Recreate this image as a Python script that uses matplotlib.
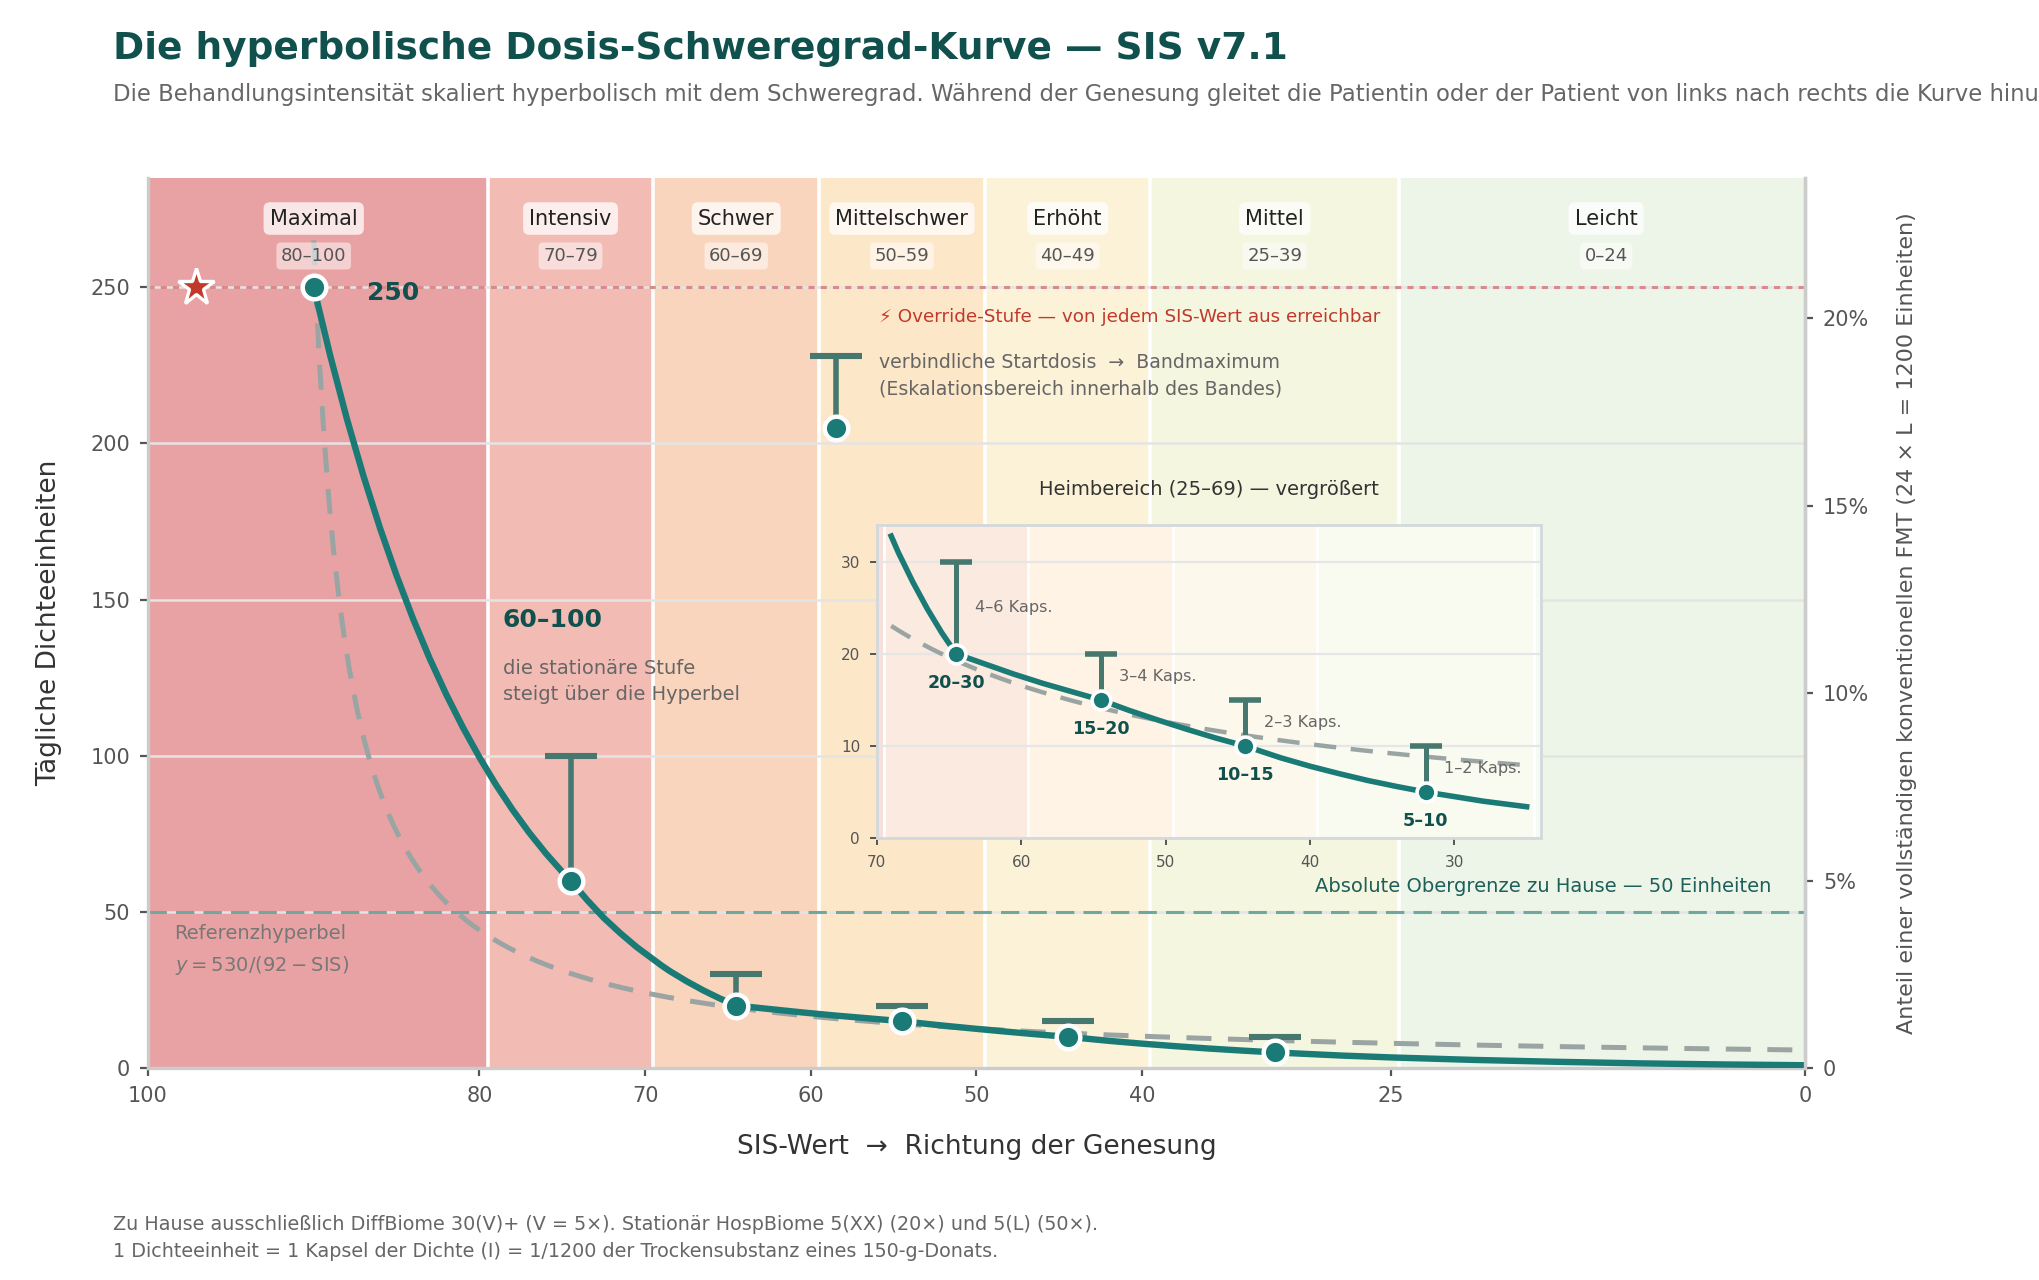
import numpy as np
import matplotlib
matplotlib.use("Agg")
import matplotlib.pyplot as plt
from matplotlib.ticker import FuncFormatter

plt.rcParams['font.family'] = ['DejaVu Sans']

# --- bands of the SIS scale ---
band_names = ["Maximal", "Intensiv", "Schwer", "Mittelschwer", "Erhöht", "Mittel", "Leicht"]
band_ranges = ["80–100", "70–79", "60–69", "50–59", "40–49", "25–39", "0–24"]
band_lo = [80, 70, 60, 50, 40, 25, 0]
band_hi = [100, 79, 69, 59, 49, 39, 24]
band_colors = ["#e9a2a3", "#f2bcb5", "#f8d5bc", "#fde7c9", "#fbf2d8", "#f4f6e0", "#edf5e8"]

# --- dose points (band centres) ---
dose_sis = [90, 74.5, 64.5, 54.5, 44.5, 32]
dose_lo = [250, 60, 20, 15, 10, 5]
dose_hi = [250, 100, 30, 20, 15, 10]
home_labels = ["20–30", "15–20", "10–15", "5–10"]
caps_labels = ["4–6 Kaps.", "3–4 Kaps.", "2–3 Kaps.", "1–2 Kaps."]

# --- main dose curve ---
curve_sis = [90, 89, 88, 87, 86, 85, 84, 83, 82, 81, 80, 79, 78, 77, 76, 75, 74.5,
             73.5, 72.5, 71.5, 70.5, 69, 68.5, 67.5, 66.5, 65.5, 64.5,
             62.5, 60.5, 58.5, 56.5, 54.5, 52.5, 50.5, 48.5, 46.5, 44.5,
             42, 40, 38, 36, 34, 32, 28, 25, 20, 15, 10, 5, 0]
curve_val = [250, 228, 207.9, 189.6, 172.9, 157.7, 143.8, 131.1, 119.6, 109.1, 99.5, 90.7, 82.7, 75.4, 68.8, 62.8, 60,
             53.8, 48.1, 43.2, 38.7, 32.8, 31.0, 27.8, 24.9, 22.3, 20,
             18.9, 17.8, 16.8, 15.9, 15, 13.85, 12.8, 11.8, 10.85, 10,
             8.7, 7.8, 7.0, 6.25, 5.6, 5.0, 4.0, 3.4, 2.6, 2.0, 1.5, 1.15, 0.9]

# reference hyperbola y = 530 / (92 - SIS)
hyp_a, hyp_b = 530, 92

override_level = 250
home_cap = 50
full_fmt = 1200

x_ticks = [100, 80, 70, 60, 50, 40, 25, 0]
y_ticks = [0, 50, 100, 150, 200, 250]
pct_ticks = [0, 5, 10, 15, 20]

TEAL = "#1a7a76"
DARK = "#10504d"
ERR = "#46786f"
GREY = "#555555"

fig = plt.figure(figsize=(10.195, 6.4), dpi=200)
ax = fig.add_axes([0.0726, 0.1656, 0.8126, 0.6954])

for lo, hi, c in zip(band_lo, band_hi, band_colors):
    ax.axvspan(max(lo - 0.5, 0), min(hi + 0.5, 100), color=c, zorder=0, lw=0)
for lo in band_lo[:-1]:
    ax.axvline(lo - 0.5, color="white", lw=1.3, zorder=0.6)

ax.set_xlim(100, 0)
ax.set_ylim(0, 285)
ax.set_xticks(x_ticks)
ax.set_yticks(y_ticks)
ax.yaxis.grid(True, color="#e4e4e4", lw=0.9)
ax.tick_params(labelsize=7.5, colors=GREY, length=3, width=0.8)
for s in ["left", "bottom", "right"]:
    ax.spines[s].set_color("#cccccc")
    ax.spines[s].set_linewidth(1.2)
ax.spines["top"].set_visible(False)

# band labels
for name, rng, lo, hi in zip(band_names, band_ranges, band_lo, band_hi):
    xc = (lo + hi) / 2
    ax.text(xc, 272, name, ha="center", va="center", fontsize=7.5, color="#222222", zorder=6,
            bbox=dict(boxstyle="round,pad=0.3", fc="white", ec="none", alpha=0.75))
    ax.text(xc, 260, rng, ha="center", va="center", fontsize=6.5, color=GREY, zorder=6,
            bbox=dict(boxstyle="round,pad=0.25", fc="white", ec="none", alpha=0.5))

# horizontal reference lines
ax.axhline(override_level, color="#d98a8a", lw=1.1, ls=(0, (2, 2)), zorder=2)
ax.axhline(home_cap, color="#6fa7a1", lw=1.1, ls=(0, (6, 3)), zorder=2)

# hyperbola
hx = np.linspace(90, 0, 300)
ax.plot(hx, hyp_a / (hyp_b - hx), color="#9aa5a3", lw=1.8, dashes=(5, 3.3), zorder=3)

# main curve
ax.plot(curve_sis, curve_val, color=TEAL, lw=2.3, zorder=4, solid_capstyle="round")

# error bars (upper extent of each band)
ax.vlines(dose_sis[1:], dose_lo[1:], dose_hi[1:], color=ERR, lw=2.0, zorder=4.5)
ax.plot(dose_sis[1:], dose_hi[1:], ls="none", marker="_", ms=18.7, mew=2.2, color=ERR, zorder=4.5)
ax.plot(dose_sis, dose_lo, ls="none", marker="o", ms=8.5, mfc=TEAL, mec="white", mew=1.6, zorder=5)

# override star
ax.plot([97.1], [override_level], marker="*", ms=14, mfc="#c0392b", mec="white", mew=1.2, zorder=5)
ax.text(86.8, 248, "250", fontsize=9, weight="bold", color=DARK, va="center", ha="left", zorder=6)

# stationary annotation
ax.text(78.6, 143.3, "60–100", fontsize=9, weight="bold", color=DARK, va="center", ha="left", zorder=6)
ax.text(78.6, 131, "die stationäre Stufe\nsteigt über die Hyperbel", fontsize=7, color="#666666",
        va="top", ha="left", zorder=6, linespacing=1.45)

ax.text(98.4, 46, "Referenzhyperbel\n$y = 530/(92 - \\mathrm{SIS})$", fontsize=7, color="#777777",
        va="top", ha="left", zorder=6, linespacing=1.6)

# override / legend key
ax.text(55.9, 240.4, "⚡ Override-Stufe — von jedem SIS-Wert aus erreichbar", fontsize=6.6,
        color="#c0392b", va="center", ha="left", zorder=6)
key_x, key_lo, key_hi = 58.5, 205, 228
ax.vlines([key_x], [key_lo], [key_hi], color=ERR, lw=2.0, zorder=4.5)
ax.plot([key_x], [key_hi], ls="none", marker="_", ms=18.7, mew=2.2, color=ERR, zorder=4.5)
ax.plot([key_x], [key_lo], ls="none", marker="o", ms=8.5, mfc=TEAL, mec="white", mew=1.6, zorder=5)
ax.text(55.9, 228.8, "verbindliche Startdosis  →  Bandmaximum\n(Eskalationsbereich innerhalb des Bandes)",
        fontsize=6.8, color="#666666", va="top", ha="left", zorder=6, linespacing=1.5)

ax.text(2.0, 58, "Absolute Obergrenze zu Hause — 50 Einheiten", fontsize=7.0, color="#1d5f5a",
        va="center", ha="right", zorder=6)

ax.set_xlabel("SIS-Wert  →  Richtung der Genesung", fontsize=9.5, color="#333333", labelpad=10)
ax.set_ylabel("Tägliche Dichteeinheiten", fontsize=9.5, color="#333333", labelpad=10)

# right axis: share of a full FMT
ax2 = ax.twinx()
ax2.set_ylim(0, 285 / full_fmt * 100)
ax2.set_yticks(pct_ticks)
ax2.yaxis.set_major_formatter(FuncFormatter(lambda v, _: "0" if v == 0 else f"{v:.0f}%"))
ax2.tick_params(labelsize=7.5, colors=GREY, length=3, width=0.8)
for s in ["left", "bottom", "top"]:
    ax2.spines[s].set_visible(False)
ax2.spines["right"].set_color("#cccccc")
ax2.spines["right"].set_linewidth(1.2)
ax2.set_ylabel("Anteil einer vollständigen konventionellen FMT (24 × L = 1200 Einheiten)",
               fontsize=8.0, color=GREY, labelpad=10)

# inset: home range zoom
axi = fig.add_axes([0.43, 0.3453, 0.3258, 0.2445], zorder=10)
axi.set_facecolor("white")
for lo, hi, c in zip(band_lo, band_hi, band_colors):
    axi.axvspan(max(lo - 0.5, 0), min(hi + 0.5, 100), color=c, alpha=0.48, zorder=0, lw=0)
for lo in band_lo[:-1]:
    axi.axvline(lo - 0.5, color="white", lw=1.0, zorder=0.6)
axi.set_xlim(70, 24)
axi.set_ylim(0, 34)
axi.set_xticks([70, 60, 50, 40, 30])
axi.set_yticks([0, 10, 20, 30])
axi.yaxis.grid(True, color="#e6e6e6", lw=0.8)
axi.tick_params(labelsize=5.5, colors=GREY, length=2.5, width=0.7)
for s in axi.spines.values():
    s.set_color("#d3d9db")
    s.set_linewidth(1.0)

ins = [(s, v) for s, v in zip(curve_sis, curve_val) if 25 <= s <= 69]
axi.plot([p[0] for p in ins], [p[1] for p in ins], color=TEAL, lw=2.0, zorder=4)
hxi = np.linspace(69, 25, 200)
axi.plot(hxi, hyp_a / (hyp_b - hxi), color="#9aa5a3", lw=1.6, dashes=(5, 3.3), zorder=3)
axi.vlines(dose_sis[2:], dose_lo[2:], dose_hi[2:], color=ERR, lw=1.8, zorder=4.5)
axi.plot(dose_sis[2:], dose_hi[2:], ls="none", marker="_", ms=11.5, mew=2.0, color=ERR, zorder=4.5)
axi.plot(dose_sis[2:], dose_lo[2:], ls="none", marker="o", ms=6.8, mfc=TEAL, mec="white", mew=1.3, zorder=5)
for s, lo, hi, lab, cap in zip(dose_sis[2:], dose_lo[2:], dose_hi[2:], home_labels, caps_labels):
    axi.text(s, lo - 3.2, lab, ha="center", va="center", fontsize=6.3, weight="bold", color=DARK, zorder=6)
    axi.text(s - 1.3, (lo + hi) / 2, cap, ha="left", va="center", fontsize=5.8, color="#666666", zorder=6)
axi.set_title("Heimbereich (25–69) — vergrößert", fontsize=7, color="#333333", pad=11)

# titles and footer
fig.text(0.0554, 0.954, "Die hyperbolische Dosis-Schweregrad-Kurve — SIS v7.1", fontsize=13.5,
         weight="bold", color=DARK, va="baseline")
fig.text(0.0554, 0.921, "Die Behandlungsintensität skaliert hyperbolisch mit dem Schweregrad. "
         "Während der Genesung gleitet die Patientin oder der Patient von links nach rechts die Kurve hinunter.",
         fontsize=8.2, color="#666666", va="baseline")
fig.text(0.0554, 0.043, "Zu Hause ausschließlich DiffBiome 30(V)+ (V = 5×). Stationär HospBiome 5(XX) (20×) und 5(L) (50×).",
         fontsize=6.9, color="#666666", va="center")
fig.text(0.0554, 0.022, "1 Dichteeinheit = 1 Kapsel der Dichte (I) = 1/1200 der Trockensubstanz eines 150-g-Donats.",
         fontsize=6.9, color="#666666", va="center")

fig.savefig("out.png", dpi=200)
